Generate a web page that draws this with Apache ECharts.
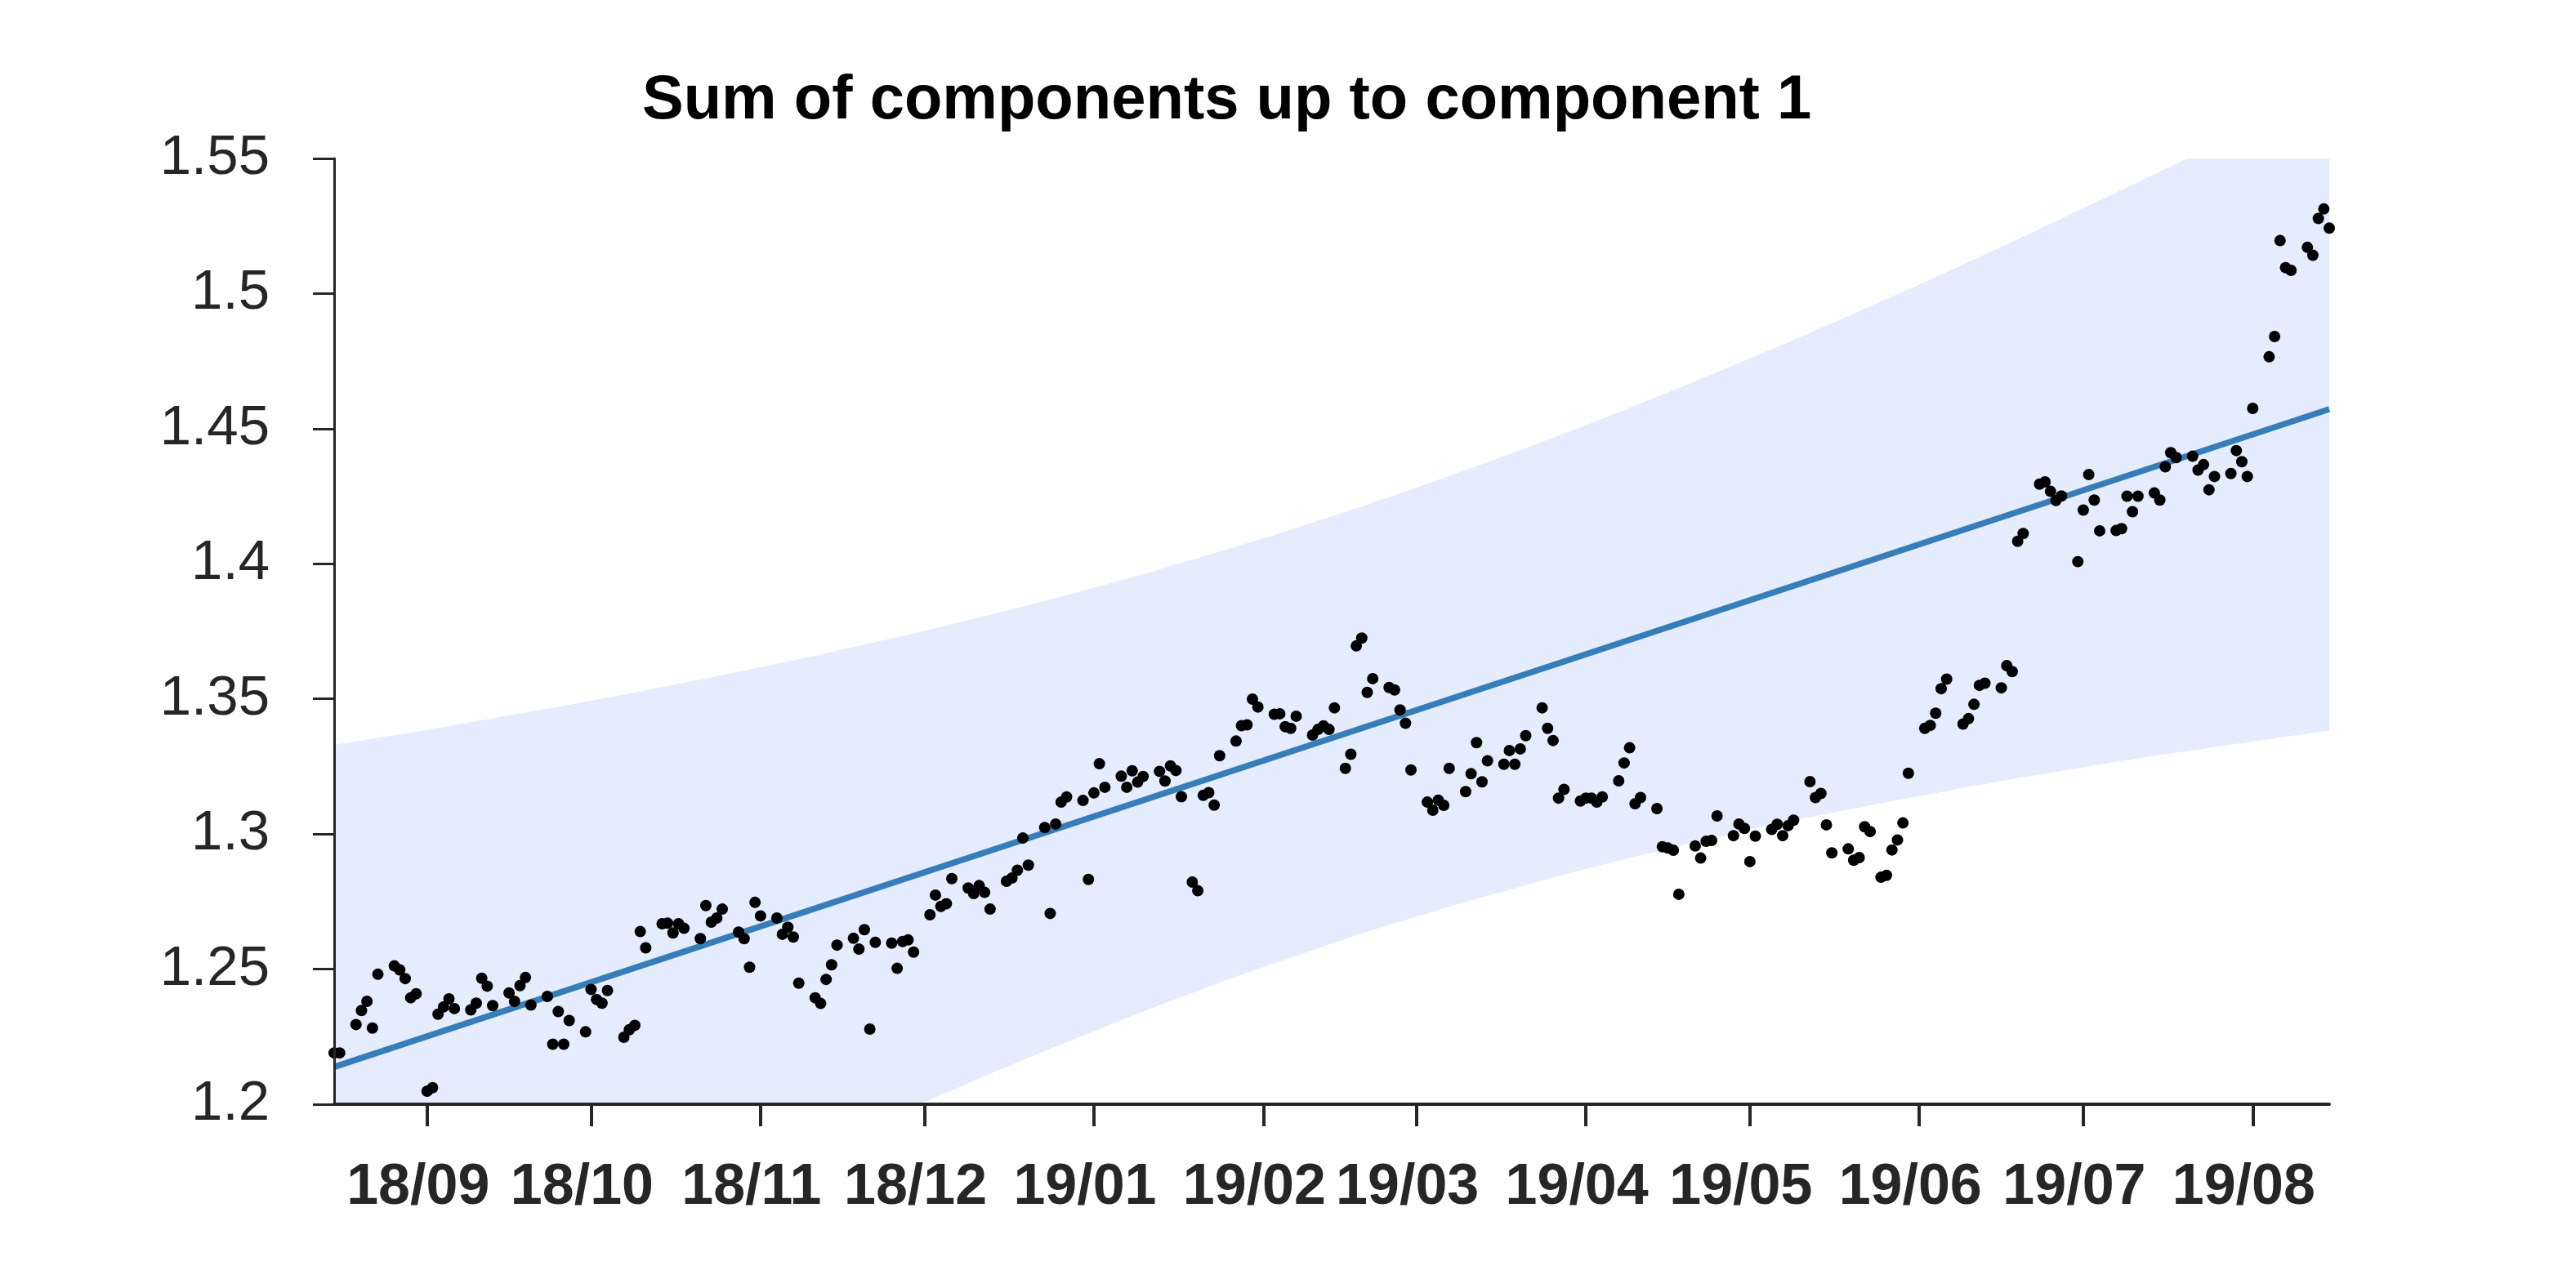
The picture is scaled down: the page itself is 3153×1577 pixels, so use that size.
<!DOCTYPE html>
<html>
<head>
<meta charset="utf-8">
<script src="https://cdn.jsdelivr.net/npm/echarts@6/dist/echarts.min.js"></script>
<style>
html,body{margin:0;padding:0;background:#ffffff;}
#chart{width:3153px;height:1577px;}
</style>
</head>
<body>
<div id="chart"></div>
<script>
// ---------- data (day offsets are counted from baseDate) ----------
const baseDate = [2018, 8, 1]; // 2018-09-01 (month is 0-based)
const titleText = 'Sum of components up to component 1';

const pointDays = [
  -17,-16,
  -13,-12,-11,-10,-9,
  -6,-5,-4,-3,-2,
  0,1,2,3,4,5,
  8,9,10,11,12,
  15,16,17,18,19,
  22,23,24,25,26,
  29,30,31,32,33,
  36,37,38,39,40,
  43,44,45,46,47,
  50,51,52,53,54,
  57,58,59,60,61,
  64,65,66,67,68,
  71,72,73,74,75,
  78,79,80,81,82,
  85,86,87,88,89,
  92,93,94,95,96,
  99,100,101,102,103,
  106,107,108,109,110,
  113,114,115,116,117,
  120,121,122,123,124,
  127,128,129,130,131,
  134,135,136,137,138,
  140,141,142,143,144,145,
  148,149,150,151,152,
  155,156,157,158,159,
  162,163,164,165,166,
  168,169,170,171,172,173,
  176,177,178,179,180,
  183,184,185,186,187,
  190,191,192,193,194,
  197,198,199,200,201,
  204,205,206,207,208,
  211,212,213,214,215,
  218,219,220,221,222,
  225,226,227,228,229,
  232,233,234,235,236,
  239,240,241,242,243,
  246,247,248,249,250,
  253,254,255,256,257,
  260,261,262,263,264,
  266,267,268,269,270,271,
  274,275,276,277,278,
  281,282,283,284,285,
  288,289,290,291,292,
  295,296,297,298,299,
  302,303,304,305,306,
  309,310,311,312,313,
  316,317,318,319,320,
  323,324,325,326,327,
  330,331,332,333,334,
  337,338,339,340,341,
  344,345,346,347,348
];

const pointValues = [
  1.2190,1.2190,
  1.2295,1.2347,1.2381,1.2282,1.2481,
  1.2512,1.2497,1.2465,1.2394,1.2409,
  1.2048,1.2061,1.2333,1.2360,1.2390,1.2354,
  1.2349,1.2374,1.2466,1.2437,1.2365,
  1.2412,1.2381,1.2439,1.2469,1.2367,
  1.2399,1.2222,1.2343,1.2222,1.2310,
  1.2268,1.2425,1.2388,1.2374,1.2421,
  1.2248,1.2276,1.2292,1.2639,1.2579,
  1.2668,1.2670,1.2634,1.2668,1.2651,
  1.2613,1.2735,1.2674,1.2689,1.2722,
  1.2637,1.2613,1.2507,1.2747,1.2697,
  1.2689,1.2629,1.2655,1.2619,1.2448,
  1.2394,1.2373,1.2462,1.2516,1.2589,
  1.2614,1.2574,1.2646,1.2278,1.2599,
  1.2596,1.2503,1.2602,1.2608,1.2563,
  1.2701,1.2774,1.2732,1.2742,1.2835,
  1.2800,1.2780,1.2809,1.2784,1.2722,
  1.2825,1.2837,1.2866,1.2985,1.2885,
  1.3024,1.2706,1.3037,1.3118,1.3137,
  1.3124,1.2832,1.3152,1.3260,1.3173,
  1.3214,1.3173,1.3234,1.3192,1.3213,
  1.3232,1.3196,1.3252,1.3235,1.3138,
  1.2822,1.2790,1.3143,1.3153,1.3107,1.3290,
  1.3344,1.3401,1.3404,1.3499,1.3470,
  1.3443,1.3445,1.3397,1.3391,1.3436,
  1.3366,1.3387,1.3400,1.3387,1.3467,
  1.3243,1.3295,1.3696,1.3725,1.3524,1.3575,
  1.3542,1.3533,1.3459,1.3410,1.3237,
  1.3118,1.3088,1.3125,1.3106,1.3243,
  1.3157,1.3223,1.3338,1.3193,1.3271,
  1.3258,1.3309,1.3258,1.3315,1.3364,
  1.3467,1.3391,1.3346,1.3133,1.3165,
  1.3122,1.3133,1.3133,1.3118,1.3137,
  1.3197,1.3263,1.3319,1.3112,1.3135,
  1.3094,1.2953,1.2948,1.2940,1.2777,
  1.2956,1.2911,1.2973,1.2976,1.3067,
  1.2994,1.3037,1.3021,1.2898,1.2992,
  1.3017,1.3036,1.2994,1.3031,1.3051,
  1.3194,1.3135,1.3150,1.3034,1.2930,
  1.2945,1.2903,1.2913,1.3027,1.3009,
  1.2840,1.2847,1.2941,1.2978,1.3041,1.3225,
  1.3391,1.3402,1.3447,1.3538,1.3573,
  1.3407,1.3427,1.3480,1.3550,1.3558,
  1.3541,1.3623,1.3601,1.4083,1.4112,
  1.4295,1.4303,1.4268,1.4234,1.4251,
  1.4008,1.4199,1.4330,1.4236,1.4122,
  1.4123,1.4130,1.4250,1.4193,1.4250,
  1.4262,1.4236,1.4359,1.4411,1.4393,
  1.4398,1.4347,1.4367,1.4274,1.4323,
  1.4334,1.4419,1.4378,1.4323,1.4575,
  1.4766,1.4841,1.5196,1.5096,1.5086,
  1.5171,1.5142,1.5278,1.5313,1.5242
];

// fitted trend line (end points)
const trendDays = [-17, 348];
const trendValues = [1.2138, 1.4572];

// uncertainty band boundaries
const upperDays = [-17, 0, 20, 40, 60, 80, 100, 120, 140, 160, 180, 200, 220, 240, 260, 280, 300, 322, 348];
const upperValues = [1.3330, 1.3386, 1.3457, 1.3532, 1.3613, 1.3701, 1.3796, 1.3900, 1.4015, 1.4139,
                     1.4275, 1.4421, 1.4577, 1.4743, 1.4917, 1.5098, 1.5287, 1.5500, 1.5759];
const lowerDays = [-17, 20, 60, 80, 100, 120, 140, 160, 180, 200, 220, 240, 260, 280, 300, 320, 348];
const lowerValues = [1.0941, 1.1325, 1.1720, 1.1908, 1.2086, 1.2254, 1.2412, 1.2556, 1.2688,
                     1.2805, 1.2911, 1.3006, 1.3090, 1.3167, 1.3237, 1.3301, 1.3383];

// axis
const xMinDay = -17, xMaxDay = 348;
const tickDays = [0, 30, 61, 91, 122, 153, 181, 212, 242, 273, 303, 334];
const tickLabels = ['18/09','18/10','18/11','18/12','19/01','19/02','19/03','19/04','19/05','19/06','19/07','19/08'];
const yMin = 1.2, yMax = 1.55, yStep = 0.05;

// ---------- build ----------
const DAY = 86400000;
const t0 = Date.UTC(baseDate[0], baseDate[1], baseDate[2]);
const toTime = d => t0 + d * DAY;
const tickTimes = tickDays.map(toTime);

const pts = pointDays.map((d, i) => [toTime(d), pointValues[i]]);
const trend = trendDays.map((d, i) => [toTime(d), trendValues[i]]);
const upper = upperDays.map((d, i) => [toTime(d), upperValues[i]]);
const lower = lowerDays.map((d, i) => [toTime(d), lowerValues[i]]);

const axisColor = '#262626';
const bandColor = '#e4ecfd';

const chart = echarts.init(document.getElementById('chart'), null, {renderer: 'canvas'});
chart.setOption({
  animation: false,
  backgroundColor: '#ffffff',
  title: {
    text: titleText,
    left: 786,
    top: 86,
    padding: 0,
    textStyle: {fontFamily: 'Liberation Sans', fontSize: 76, fontWeight: 'bold', color: '#000000'}
  },
  grid: {left: 409, right: 302, top: 194, bottom: 225, containLabel: false},
  xAxis: {
    type: 'value',
    min: toTime(xMinDay),
    max: toTime(xMaxDay),
    z: 10,
    splitLine: {show: false},
    axisLine: {show: true, onZero: false, lineStyle: {color: axisColor, width: 4}},
    axisTick: {show: true, length: 27, lineStyle: {color: axisColor, width: 4}, customValues: tickTimes},
    axisLabel: {
      customValues: tickTimes,
      margin: 68,
      padding: [0, 22, 0, 0],
      fontFamily: 'Liberation Sans', fontSize: 70, fontWeight: 'bold', color: axisColor,
      formatter: function (v) {
        let best = -1, bd = Infinity;
        tickTimes.forEach((t, i) => { const dd = Math.abs(t - v); if (dd < bd) { bd = dd; best = i; } });
        return bd < DAY ? tickLabels[best] : '';
      }
    }
  },
  yAxis: {
    type: 'value',
    min: yMin, max: yMax, interval: yStep,
    z: 10,
    splitLine: {show: false},
    axisLine: {show: true, onZero: false, lineStyle: {color: axisColor, width: 3}},
    axisTick: {show: true, length: 26, lineStyle: {color: axisColor, width: 3}},
    axisLabel: {margin: 79, fontFamily: 'Liberation Sans', fontSize: 69, color: axisColor}
  },
  series: [
    {
      name: 'upper', type: 'line', data: upper, smooth: true, symbol: 'none', z: 1,
      lineStyle: {width: 0, color: bandColor},
      areaStyle: {color: bandColor, opacity: 1, origin: 'start'},
      silent: true
    },
    {
      name: 'lower', type: 'line', data: lower, smooth: true, symbol: 'none', z: 1,
      lineStyle: {width: 0, color: '#ffffff'},
      areaStyle: {color: '#ffffff', opacity: 1, origin: 'start'},
      silent: true
    },
    {
      name: 'trend', type: 'line', data: trend, symbol: 'none', z: 3,
      lineStyle: {width: 7.5, color: '#377eb8'}
    },
    {
      name: 'points', type: 'scatter', data: pts, symbol: 'circle', symbolSize: 14, z: 4,
      itemStyle: {color: '#000000', opacity: 1}
    }
  ]
});
</script>
</body>
</html>
